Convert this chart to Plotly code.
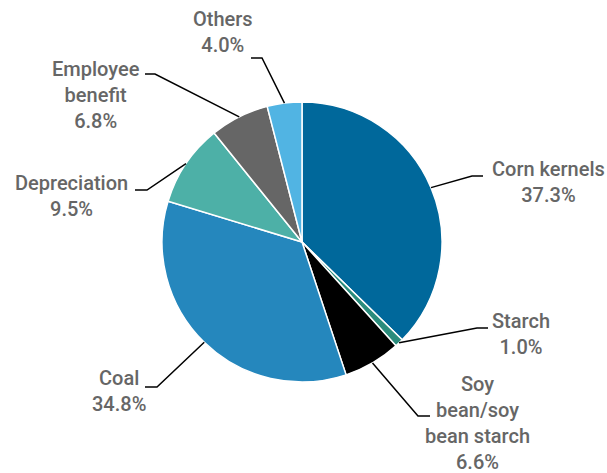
import math
import plotly.graph_objects as go

# Cost structure shares (%)
categories = ["Corn kernels", "Starch", "Soy bean/soy bean starch", "Coal",
              "Depreciation", "Employee benefit", "Others"]
shares = [37.3, 1.0, 6.6, 34.8, 9.5, 6.8, 4.0]
label_texts = ["Corn kernels", "Starch", "Soy<br>bean/soy<br>bean starch", "Coal",
               "Depreciation", "Employee<br>benefit", "Others"]
colors = ["#00689b", "#2a8c7c", "#000000", "#2587bd", "#4db0a7", "#666666", "#51b4e3"]

# Canvas and pie geometry (pixels)
W, H = 607, 473
PIE_CX, PIE_CY, PIE_R = 302, 242, 140

# Label block centres and leader elbow/end points (pixels)
label_pos = [(548, 182), (521, 334), (477, 423), (119, 391), (71, 196), (96, 95), (223, 32)]
elbows = [((472, 176), (483, 176)), ((477, 328), (488, 328)), ((418, 416), (430, 416)),
          ((157, 387), (145, 387)), ((147, 190), (135, 190)), ((155, 74), (145, 74)),
          ((262, 58), (251, 58))]


def px(x):
    return x / W


def py(y):
    return 1 - y / H


fig = go.Figure(go.Pie(
    labels=categories,
    values=shares,
    sort=False,
    direction="clockwise",
    rotation=0,
    marker=dict(colors=colors, line=dict(color="white", width=1.5)),
    textinfo="none",
    hoverinfo="label+percent",
    showlegend=False,
    domain=dict(x=[px(PIE_CX - PIE_R), px(PIE_CX + PIE_R)],
                y=[py(PIE_CY + PIE_R), py(PIE_CY - PIE_R)]),
))

total = sum(shares)
cum = 0.0
shapes = []
annotations = []
for i, v in enumerate(shares):
    mid = (cum + v / 2) / total * 2 * math.pi
    cum += v
    ax = PIE_CX + PIE_R * math.sin(mid)
    ay = PIE_CY - PIE_R * math.cos(mid)
    (ex, ey), (tx, ty) = elbows[i]
    path = f"M {px(ax)} {py(ay)} L {px(ex)} {py(ey)} L {px(tx)} {py(ty)}"
    shapes.append(dict(type="path", xref="paper", yref="paper", path=path,
                       line=dict(color="black", width=1.5)))
    lx, ly = label_pos[i]
    annotations.append(dict(
        x=px(lx), y=py(ly), xref="paper", yref="paper",
        xanchor="center", yanchor="middle", align="center", showarrow=False,
        text=f"{label_texts[i]}<br>{v:.1f}%",
        font=dict(family="Roboto", size=20, color="#666666", weight=500),
    ))

fig.update_layout(
    width=W, height=H,
    margin=dict(l=0, r=0, t=0, b=0),
    paper_bgcolor="white",
    plot_bgcolor="white",
    shapes=shapes,
    annotations=annotations,
)

fig.write_html("out.html")
